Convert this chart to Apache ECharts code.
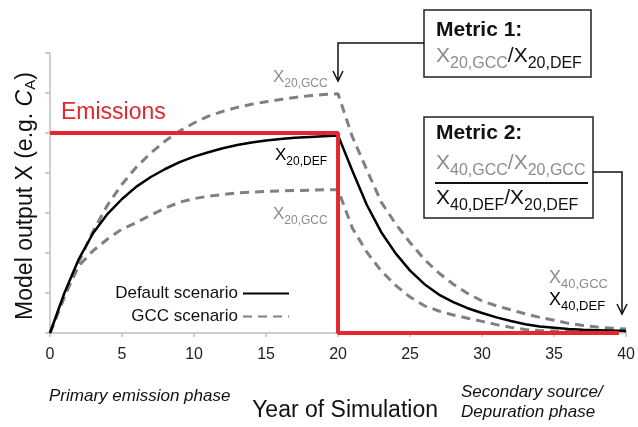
<!DOCTYPE html>
<html><head><meta charset="utf-8">
<script src="https://cdn.jsdelivr.net/npm/echarts@6/dist/echarts.min.js"></script>
<style>html,body{margin:0;padding:0;background:#fff}#c{width:638px;height:427px}</style>
</head><body><div id="c"></div>
<script>
// ---- data ----
const years = [0,1,2,3,4,5,6,7,8,9,10,11,12,13,14,15,16,17,18,19,20,21,22,23,24,25,26,27,28,29,30,31,32,33,34,35,36,37,38,39,40];
const defaultScenario = [0,1.0,1.85,2.5,2.98,3.35,3.66,3.9,4.1,4.27,4.41,4.52,4.62,4.7,4.76,4.81,4.85,4.88,4.9,4.92,4.94,4.05,3.2,2.52,1.99,1.56,1.22,0.96,0.77,0.62,0.5,0.39,0.3,0.22,0.16,0.13,0.1,0.08,0.07,0.06,0.05];
const gccHigh = [0,0.9,1.78,2.55,3.2,3.72,4.15,4.5,4.8,5.05,5.25,5.42,5.54,5.64,5.72,5.78,5.84,5.89,5.93,5.96,5.98,4.9,4.08,3.27,2.73,2.26,1.84,1.5,1.22,0.99,0.8,0.68,0.58,0.48,0.39,0.32,0.24,0.19,0.15,0.12,0.1];
const gccLow = [0,0.92,1.68,2.06,2.35,2.6,2.76,2.95,3.12,3.27,3.36,3.42,3.46,3.5,3.52,3.54,3.55,3.56,3.57,3.58,3.58,2.62,2.02,1.55,1.19,0.9,0.68,0.55,0.45,0.37,0.29,0.21,0.14,0.09,0.06,0.05,0.04,0.04,0.04,0.04,0.04];
const emissionYears = [0,20,20,39.5];
const emissionValues = [5,5,0,0];
const seriesNames = ['Default scenario','GCC scenario','Emissions'];

const FONT = 'Liberation Sans';
const pairs = (xs, ys) => xs.map((x, i) => [x, ys[i]]);
const chart = echarts.init(document.getElementById('c'), null, {renderer:'canvas'});

function subLabel(x, y, sub, color, fs, sfs, pad) {
  return {
    type:'text', x:x, y:y, z:100,
    style:{
      text:'{x|X}{s|' + sub + '}', fill:color, fontFamily:FONT, fontSize:fs, verticalAlign:'top',
      rich:{
        x:{fontSize:fs, lineHeight:fs+3, verticalAlign:'top', fontFamily:FONT},
        s:{fontSize:sfs, lineHeight:sfs+2, padding:[pad,0,0,0], verticalAlign:'top', fontFamily:FONT}
      }
    }
  };
}
function ratioLabel(x, y, subA, subB, colorA, colorB, fs, sfs, pad) {
  return {
    type:'text', x:x, y:y, z:100,
    style:{
      text:'{xa|X}{sa|' + subA + '}{xb|/X}{sb|' + subB + '}', fill:colorB, fontFamily:FONT, fontSize:fs, verticalAlign:'top',
      rich:{
        xa:{fill:colorA, fontSize:fs, lineHeight:fs+3, verticalAlign:'top', fontFamily:FONT},
        sa:{fill:colorA, fontSize:sfs, lineHeight:sfs+2, padding:[pad,0,0,0], verticalAlign:'top', fontFamily:FONT},
        xb:{fill:colorB, fontSize:fs, lineHeight:fs+3, verticalAlign:'top', fontFamily:FONT},
        sb:{fill:colorB, fontSize:sfs, lineHeight:sfs+2, padding:[pad,0,0,0], verticalAlign:'top', fontFamily:FONT}
      }
    }
  };
}
const GREY_T = '#8c8c8c';
const legendBase = {
  orient:'horizontal', align:'right', right:348, itemWidth:46, itemHeight:14, padding:0,
  selectedMode:false, textStyle:{fontSize:17, color:'#111', fontFamily:FONT},
  itemStyle:{color:'rgba(0,0,0,0)', borderWidth:0, opacity:0}
};

chart.setOption({
  animation:false,
  backgroundColor:'#fff',
  grid:{left:50, right:10, top:53, bottom:85},
  legend:[
    Object.assign({}, legendBase, {data:[seriesNames[0]], top:285}),
    Object.assign({}, legendBase, {data:[seriesNames[1]], top:308})
  ],
  xAxis:{
    type:'value', min:0, max:40, interval:5,
    name:'Year of Simulation', nameLocation:'middle', nameGap:66,
    nameTextStyle:{fontSize:23, color:'#111', fontFamily:FONT, padding:[0,0,0,14]},
    axisLine:{lineStyle:{color:'#bfbfbf', width:1.5}},
    axisTick:{show:true, length:4, lineStyle:{color:'#bfbfbf', width:1.5}},
    axisLabel:{fontSize:16, color:'#222', fontFamily:FONT, margin:14},
    splitLine:{show:false}
  },
  yAxis:{
    type:'value', min:0, max:7, interval:1,
    name:'Model output X (e.g. {i|C}{s|A})', nameLocation:'middle', nameGap:12,
    nameTextStyle:{fontSize:23, color:'#111', fontFamily:FONT, padding:[0,6,0,0],
      rich:{i:{fontSize:23, fontStyle:'italic', fontFamily:FONT, color:'#111'},
            s:{fontSize:15, fontFamily:FONT, color:'#111', padding:[9,0,0,0]}}},
    axisLine:{show:true, lineStyle:{color:'#bfbfbf', width:1.5}},
    axisTick:{show:true, length:5, lineStyle:{color:'#bfbfbf', width:1.5}},
    axisLabel:{show:false},
    splitLine:{show:false}
  },
  series:[
    {type:'line', name:seriesNames[0], data:pairs(years, defaultScenario), symbol:'none', showSymbol:false,
     lineStyle:{color:'#000', width:2.5}, itemStyle:{color:'#000'}, z:3},
    {type:'line', name:seriesNames[1], data:pairs(years, gccHigh), symbol:'none', showSymbol:false,
     lineStyle:{color:'#808080', width:3, type:[9,6]}, itemStyle:{color:'#808080'}, z:2},
    {type:'line', name:seriesNames[1], data:pairs(years, gccLow), symbol:'none', showSymbol:false,
     lineStyle:{color:'#808080', width:3, type:[9,6]}, itemStyle:{color:'#808080'}, z:2},
    {type:'line', name:seriesNames[2], data:pairs(emissionYears, emissionValues), symbol:'none', showSymbol:false,
     lineStyle:{color:'#e5262e', width:4}, itemStyle:{color:'#e5262e'}, z:4}
  ],
  graphic:[
    {type:'text', x:61, y:113, z:100, style:{text:'Emissions', fill:'#e5262e', fontSize:23, fontFamily:FONT, verticalAlign:'middle'}},
    subLabel(273, 69, '20,GCC', GREY_T, 17, 12, 9),
    subLabel(275, 147, '20,DEF', '#000', 17, 12, 9),
    subLabel(273, 206, '20,GCC', GREY_T, 17, 12, 9),
    subLabel(549, 269, '40,GCC', GREY_T, 18, 13, 9),
    subLabel(549, 291, '40,DEF', '#000', 18, 13, 9),
    {type:'text', x:49, y:396, z:100, style:{text:'Primary emission phase', fill:'#111', fontSize:17, fontStyle:'italic', fontFamily:FONT, verticalAlign:'middle'}},
    {type:'text', x:461, y:402, z:100, style:{text:'Secondary source/\nDepuration phase', fill:'#111', fontSize:17, lineHeight:20, fontStyle:'italic', fontFamily:FONT, verticalAlign:'middle'}},
    // metric 1 box and connector
    {type:'rect', z:90, shape:{x:424, y:10, width:167, height:67}, style:{fill:'#fff', stroke:'#222', lineWidth:1.5}},
    {type:'text', x:436, y:30, z:100, style:{text:'Metric 1:', fill:'#111', fontSize:21, fontWeight:'bold', fontFamily:FONT, verticalAlign:'middle'}},
    ratioLabel(436, 46, '20,GCC', '20,DEF', GREY_T, '#111', 21, 16, 10),
    {type:'polyline', z:90, shape:{points:[[424,43],[338,43],[338,80]]}, style:{stroke:'#111', lineWidth:1.5, fill:null}},
    {type:'polyline', z:90, shape:{points:[[333,71],[338,81],[343,71]]}, style:{stroke:'#111', lineWidth:1.5, fill:null}},
    // metric 2 box and connector
    {type:'rect', z:90, shape:{x:424, y:117, width:169, height:101}, style:{fill:'#fff', stroke:'#222', lineWidth:1.5}},
    {type:'text', x:436, y:133, z:100, style:{text:'Metric 2:', fill:'#111', fontSize:21, fontWeight:'bold', fontFamily:FONT, verticalAlign:'middle'}},
    ratioLabel(436, 153, '40,GCC', '20,GCC', GREY_T, GREY_T, 21, 16, 10),
    {type:'line', z:95, shape:{x1:435, y1:183, x2:588, y2:183}, style:{stroke:'#111', lineWidth:2}},
    ratioLabel(436, 188, '40,DEF', '20,DEF', '#111', '#111', 21, 16, 10),
    {type:'polyline', z:90, shape:{points:[[593,172],[622,172],[622,313]]}, style:{stroke:'#111', lineWidth:1.5, fill:null}},
    {type:'polyline', z:90, shape:{points:[[617,304],[622,314],[627,304]]}, style:{stroke:'#111', lineWidth:1.5, fill:null}}
  ]
});
</script></body></html>
